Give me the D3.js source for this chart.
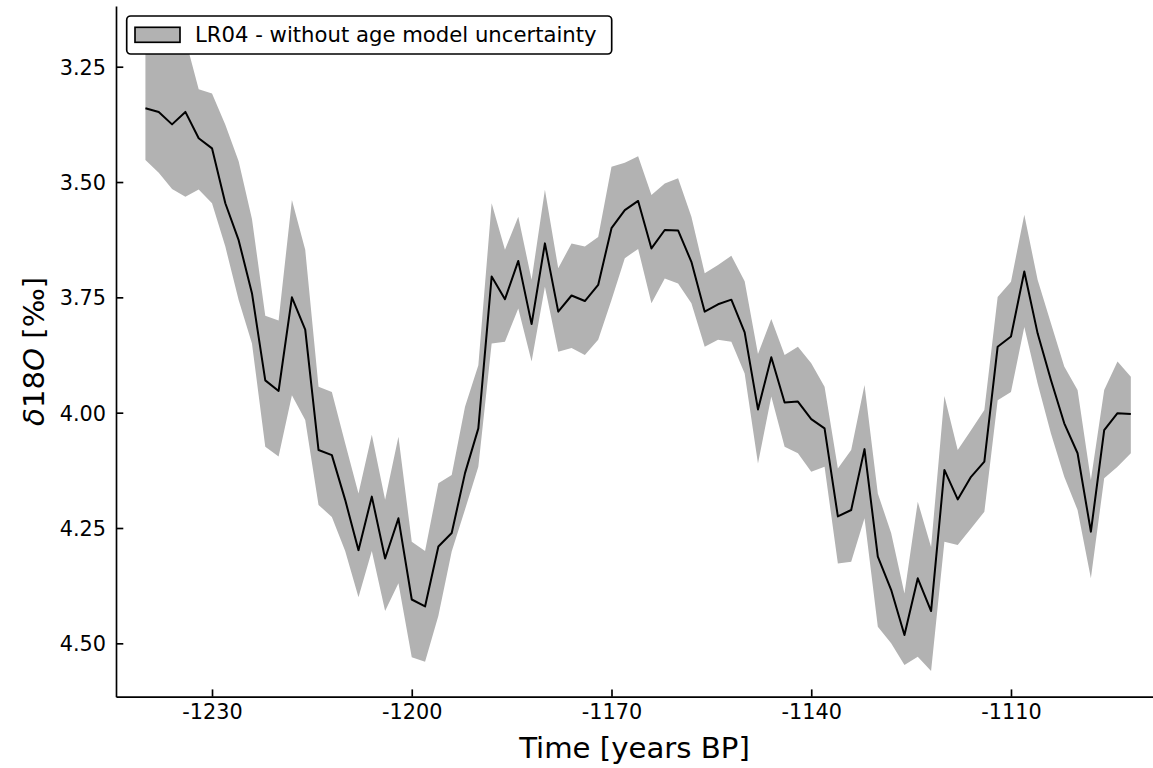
<!DOCTYPE html>
<html>
<head>
<meta charset="utf-8">
<script src="https://cdn.jsdelivr.net/npm/d3@7"></script>
<style>
  html, body { margin: 0; padding: 0; background: #fff; }
  svg { display: block; font-family: "DejaVu Sans", sans-serif; }
</style>
</head>
<body>
<svg id="chart" width="1153" height="768"></svg>
<script>
// LR04 benthic stack, 2-kyr steps
const years = [
  -1240, -1238, -1236, -1234, -1232, -1230, -1228, -1226, -1224, -1222,
  -1220, -1218, -1216, -1214, -1212, -1210, -1208, -1206, -1204, -1202,
  -1200, -1198, -1196, -1194, -1192, -1190, -1188, -1186, -1184, -1182,
  -1180, -1178, -1176, -1174, -1172, -1170, -1168, -1166, -1164, -1162,
  -1160, -1158, -1156, -1154, -1152, -1150, -1148, -1146, -1144, -1142,
  -1140, -1138, -1136, -1134, -1132, -1130, -1128, -1126, -1124, -1122,
  -1120, -1118, -1116, -1114, -1112, -1110, -1108, -1106, -1104, -1102,
  -1100, -1098, -1096, -1094, -1092
];

// stack mean (per mil)
const d18O = [
  3.340, 3.348, 3.375, 3.348, 3.405, 3.427, 3.546, 3.626, 3.741, 3.930,
  3.953, 3.750, 3.820, 4.081, 4.092, 4.189, 4.298, 4.182, 4.316, 4.229,
  4.405, 4.420, 4.290, 4.261, 4.131, 4.034, 3.705, 3.754, 3.671, 3.808,
  3.633, 3.781, 3.746, 3.758, 3.723, 3.600, 3.561, 3.541, 3.644, 3.604,
  3.605, 3.673, 3.781, 3.765, 3.755, 3.826, 3.993, 3.880, 3.978, 3.976,
  4.014, 4.034, 4.225, 4.211, 4.079, 4.312, 4.384, 4.482, 4.359, 4.430,
  4.124, 4.188, 4.139, 4.106, 3.857, 3.835, 3.694, 3.828, 3.929, 4.023,
  4.088, 4.258, 4.038, 4.001, 4.003
];

// lower bound of the uncertainty envelope
const d18OLow = [
  3.200, 3.215, 3.220, 3.190, 3.299, 3.308, 3.376, 3.455, 3.580, 3.790,
  3.800, 3.539, 3.647, 3.944, 3.955, 4.066, 4.175, 4.048, 4.189, 4.052,
  4.280, 4.300, 4.153, 4.135, 3.987, 3.897, 3.546, 3.647, 3.575, 3.712,
  3.517, 3.687, 3.633, 3.640, 3.619, 3.467, 3.458, 3.444, 3.528, 3.503,
  3.492, 3.575, 3.698, 3.680, 3.660, 3.715, 3.873, 3.797, 3.875, 3.857,
  3.893, 3.944, 4.121, 4.081, 3.940, 4.175, 4.261, 4.392, 4.193, 4.291,
  3.964, 4.081, 4.038, 3.994, 3.749, 3.716, 3.571, 3.712, 3.806, 3.900,
  3.951, 4.146, 3.951, 3.889, 3.922
];

// upper bound of the uncertainty envelope
const d18OHigh = [
  3.452, 3.480, 3.515, 3.532, 3.516, 3.546, 3.640, 3.756, 3.850, 4.074,
  4.095, 3.962, 4.016, 4.200, 4.226, 4.300, 4.400, 4.300, 4.430, 4.370,
  4.530, 4.540, 4.440, 4.301, 4.210, 4.117, 3.850, 3.846, 3.774, 3.889,
  3.727, 3.868, 3.860, 3.875, 3.842, 3.756, 3.665, 3.645, 3.763, 3.709,
  3.720, 3.763, 3.857, 3.842, 3.846, 3.915, 4.110, 3.965, 4.074, 4.088,
  4.128, 4.117, 4.327, 4.323, 4.229, 4.464, 4.500, 4.547, 4.529, 4.560,
  4.280, 4.287, 4.251, 4.215, 3.973, 3.955, 3.814, 3.937, 4.045, 4.139,
  4.211, 4.359, 4.142, 4.117, 4.088
];

const xTicks = [-1230, -1200, -1170, -1140, -1110];
const xTickLabels = ["-1230", "-1200", "-1170", "-1140", "-1110"];
const yTicks = [3.25, 3.50, 3.75, 4.00, 4.25, 4.50];
const yTickLabels = ["3.25", "3.50", "3.75", "4.00", "4.25", "4.50"];

const legendLabel = "LR04 - without age model uncertainty";
const xLabel = "Time [years BP]";

const rows = years.map((t, i) => ({ t, mean: d18O[i], lo: d18OLow[i], hi: d18OHigh[i] }));

const plot = { left: 116, right: 1153, top: 6, bottom: 696.7 };
const tickFont = 20.8;
const legendFont = 21.2;
const labelFont = 29.2;
const bandColor = "#b2b2b2";
const spineWidth = 1.67;

const svg = d3.select("#chart");

const x = d3.scaleLinear().domain([-1244.42, -1088.67]).range([plot.left, plot.right]);
const y = d3.scaleLinear().domain([3.1184, 4.6157]).range([plot.top, plot.bottom]);

// envelope
const area = d3.area()
  .x(d => x(d.t))
  .y0(d => y(d.hi))
  .y1(d => y(d.lo));

svg.append("path")
  .datum(rows)
  .attr("d", area)
  .attr("fill", bandColor)
  .attr("stroke", "none");

// mean curve
const line = d3.line()
  .x(d => x(d.t))
  .y(d => y(d.mean));

svg.append("path")
  .datum(rows)
  .attr("d", line)
  .attr("fill", "none")
  .attr("stroke", "#000")
  .attr("stroke-width", 2)
  .attr("stroke-linejoin", "round");

// axes with inward ticks
const xAxis = d3.axisBottom(x)
  .tickValues(xTicks)
  .tickFormat((d, i) => xTickLabels[i])
  .tickSizeInner(-7.3)
  .tickSizeOuter(0)
  .tickPadding(7.3);

const yAxis = d3.axisLeft(y)
  .tickValues(yTicks)
  .tickFormat((d, i) => yTickLabels[i])
  .tickSizeInner(-7.3)
  .tickSizeOuter(0)
  .tickPadding(10);

const gx = svg.append("g")
  .attr("transform", `translate(0,${plot.bottom})`)
  .call(xAxis);

const gy = svg.append("g")
  .attr("transform", `translate(${plot.left},0)`)
  .call(yAxis);

[gx, gy].forEach(g => {
  g.attr("font-family", "DejaVu Sans, sans-serif").attr("font-size", tickFont);
  g.select(".domain").attr("stroke", "#000").attr("stroke-width", spineWidth);
  g.selectAll(".tick line").attr("stroke", "#000").attr("stroke-width", spineWidth);
  g.selectAll(".tick text").attr("fill", "#000");
});
gy.selectAll(".tick text").attr("dy", "0.36em");

// axis titles
svg.append("text")
  .attr("x", (plot.left + plot.right) / 2)
  .attr("y", 757.7)
  .attr("text-anchor", "middle")
  .attr("font-size", labelFont)
  .attr("fill", "#000")
  .text(xLabel);

const yl = svg.append("text")
  .attr("transform", `translate(44,${(plot.top + plot.bottom) / 2}) rotate(-90)`)
  .attr("text-anchor", "middle")
  .attr("font-size", labelFont)
  .attr("fill", "#000");
yl.append("tspan").attr("font-style", "italic").text("δ");
yl.append("tspan").text("18");
yl.append("tspan").attr("font-style", "italic").text("O");
yl.append("tspan").text(" [‰]");

// legend
const lg = svg.append("g");
lg.append("rect")
  .attr("x", 126.7).attr("y", 16)
  .attr("width", 485).attr("height", 38)
  .attr("rx", 4).attr("ry", 4)
  .attr("fill", "#fff")
  .attr("stroke", "#000")
  .attr("stroke-width", spineWidth);
lg.append("rect")
  .attr("x", 135).attr("y", 27.3)
  .attr("width", 45).attr("height", 15)
  .attr("fill", bandColor)
  .attr("stroke", "#000")
  .attr("stroke-width", spineWidth);
lg.append("text")
  .attr("x", 195).attr("y", 42)
  .attr("font-size", legendFont)
  .attr("fill", "#000")
  .text(legendLabel);
</script>
</body>
</html>
